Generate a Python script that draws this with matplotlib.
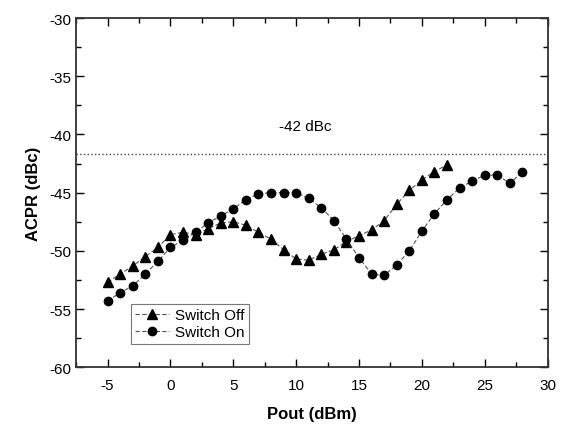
import matplotlib.pyplot as plt
from matplotlib.ticker import MultipleLocator

plt.rcParams['font.family'] = ['Liberation Sans', 'DejaVu Sans']
plt.rcParams['axes.unicode_minus'] = False

# Switch Off (triangles)
pout_off = list(range(-5, 23))
acpr_off = [-52.7, -52.0, -51.3, -50.5, -49.7, -48.6, -48.4, -48.6, -48.1, -47.6,
            -47.5, -47.8, -48.4, -49.0, -49.9, -50.7, -50.8, -50.3, -49.9, -49.2,
            -48.7, -48.2, -47.4, -46.0, -44.8, -43.9, -43.2, -42.6]

# Switch On (circles)
pout_on = list(range(-5, 29))
acpr_on = [-54.3, -53.6, -53.0, -52.0, -50.9, -49.7, -49.1, -48.4, -47.6, -47.0,
           -46.4, -45.6, -45.1, -45.0, -45.0, -45.0, -45.5, -46.3, -47.4, -49.0,
           -50.6, -52.0, -52.1, -51.2, -50.0, -48.3, -46.8, -45.6, -44.6, -44.0,
           -43.5, -43.5, -44.2, -43.2]

limit = -41.7

fig = plt.figure(figsize=(5.64, 4.27), dpi=100)
ax = fig.add_axes([0.135, 0.1375, 0.836, 0.818])

ax.plot(pout_off, acpr_off, color='#555555', ls=(0, (4, 2)), lw=0.8,
        marker='^', ms=6.5, mfc='black', mec='black', label='Switch Off')
ax.plot(pout_on, acpr_on, color='#555555', ls=(0, (4, 2)), lw=0.8,
        marker='o', ms=6, mfc='black', mec='black', label='Switch On')

ax.axhline(limit, color='#444444', ls=':', lw=1)
ax.text(10.7, -39.3, '-42 dBc', fontsize=11, ha='center', va='center')

ax.set_xlim(-7.5, 30)
ax.set_ylim(-60, -30)
ax.xaxis.set_major_locator(MultipleLocator(5))
ax.xaxis.set_minor_locator(MultipleLocator(2.5))
ax.yaxis.set_major_locator(MultipleLocator(5))
ax.yaxis.set_minor_locator(MultipleLocator(2.5))
ax.tick_params(which='both', direction='in', top=True, right=True,
               labelsize=11, width=1)
ax.tick_params(which='major', length=6)
ax.tick_params(which='minor', length=3.5)
ax.tick_params(axis='x', pad=8)
for s in ax.spines.values():
    s.set_linewidth(1.3)
    s.set_color('#333333')

ax.set_xlabel('Pout (dBm)', fontsize=12, fontweight='bold', labelpad=10)
ax.set_ylabel('ACPR (dBc)', fontsize=12, fontweight='bold', labelpad=6)

leg = ax.legend(loc='lower left', bbox_to_anchor=(0.116, 0.067),
                borderaxespad=0, fontsize=11, fancybox=False,
                edgecolor='#555555', handlelength=2.2, borderpad=0.3,
                labelspacing=0.2, handletextpad=0.4)
leg.get_frame().set_linewidth(0.8)

fig.savefig('out.png', dpi=100)
